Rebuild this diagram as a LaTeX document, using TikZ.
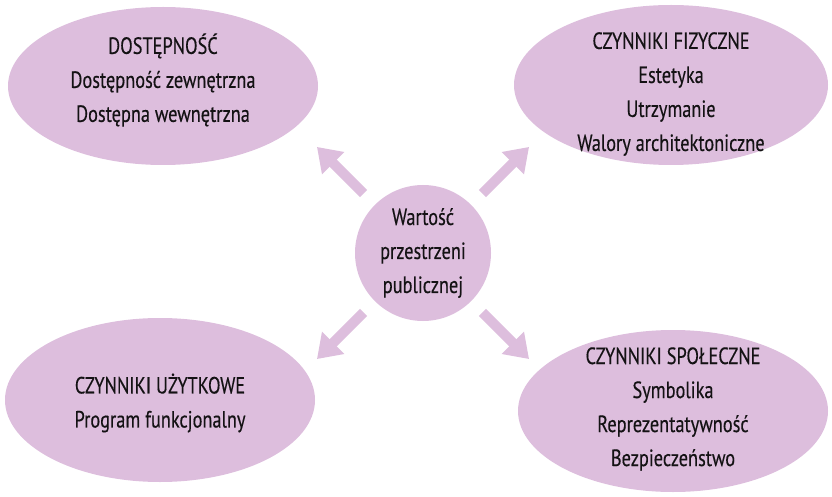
\documentclass[tikz,border=0pt]{standalone}
\usepackage{fontspec}
\setmainfont{PT Sans}[FakeStretch=0.78,FakeBold=0.3]
\usetikzlibrary{shapes.geometric,arrows.meta,calc}
\definecolor{lilac}{RGB}{221,190,221}
\definecolor{ink}{RGB}{20,18,20}
\begin{document}
\begin{tikzpicture}[x=1pt,y=1pt,
  blob/.style={ellipse, fill=lilac, draw=none, inner sep=0pt},
  txt/.style={align=center, text=ink, font=\fontsize{23.5}{34}\selectfont, inner sep=0pt},
  bigarrow/.style={draw=lilac, line width=10pt, -{Triangle[width=30pt,length=23pt]}}]
\useasboundingbox (0,0) rectangle (832,496);

% outer factor groups
\node[blob, minimum width=310, minimum height=158] (tl) at (163,410) {};
\node[blob, minimum width=314, minimum height=160] (tr) at (671,411) {};
\node[blob, minimum width=310, minimum height=164] (bl) at (160,96) {};
\node[blob, minimum width=310, minimum height=162] (br) at (673,85) {};

% central value
\node[circle, fill=lilac, minimum size=136, inner sep=0pt] (c) at (423,243) {};

\node[txt] (tltext) at ($(tl)+(0,6)$) {DOSTĘPNOŚĆ\\Dostępność zewnętrzna\\Dostępna wewnętrzna};
\node[txt] (trtext) at ($(tr)+(0,-9)$) {CZYNNIKI FIZYCZNE\\Estetyka\\Utrzymanie\\Walory architektoniczne};
\node[txt] (bltext) at ($(bl)+(0,-3)$) {CZYNNIKI UŻYTKOWE\\Program funkcjonalny};
\node[txt] (brtext) at ($(br)+(0,2)$) {CZYNNIKI SPOŁECZNE\\Symbolika\\Reprezentatywność\\Bezpieczeństwo};
\node[txt] (ctext) at (c) {Wartość\\przestrzeni\\publicznej};

% block arrows pointing outwards
\foreach \ang/\nm in {135/a, 45/b, 225/d, 315/e} {
  \coordinate (\nm tail) at ($(c)+(\ang:84)$);
  \coordinate (\nm tip) at ($(c)+(\ang:150)$);
}
\draw[bigarrow] (atail) -- (atip);
\draw[bigarrow] (btail) -- (btip);
\draw[bigarrow] (dtail) -- (dtip);
\draw[bigarrow] (etail) -- (etip);
\end{tikzpicture}
\end{document}
